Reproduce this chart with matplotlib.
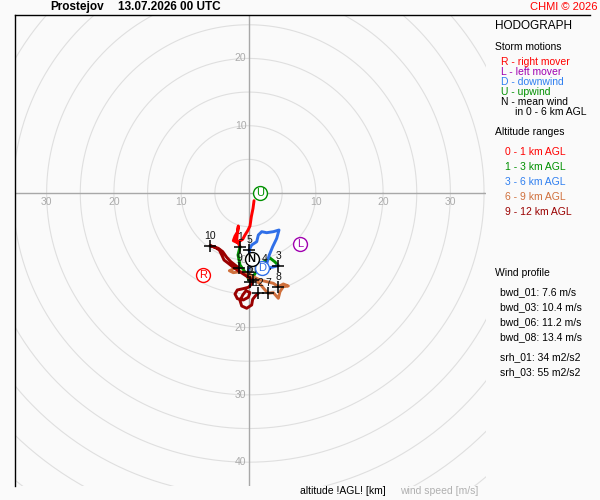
import matplotlib
matplotlib.use("Agg")
import matplotlib.pyplot as plt
import numpy as np
from matplotlib.lines import Line2D

plt.rcParams['font.family'] = ['Liberation Sans', 'DejaVu Sans']

# ---------------- data (m/s, u east, v north) ----------------
red_u = [0.82, 0.67, 0.42, 0.22, -0.12, -0.52, -0.86, -1.66, -2.26, -2.00, -1.61, -1.51, -1.66, -1.75, -1.26]
red_v = [-1.14, -2.28, -3.52, -4.90, -5.60, -6.24, -6.88, -7.38, -7.09, -6.39, -5.75, -4.90, -5.99, -6.98, -7.98]

green_u = [-1.26, -1.56, -1.26, -0.52, 0.22, 1.11, 2.01, 3.19, 3.94, 4.43]
green_v = [-7.98, -9.21, -10.70, -11.74, -13.18, -11.74, -10.40, -9.66, -10.25, -10.80]

blue_u = [4.43, 3.45, 2.45, 2.79, 3.09, 3.59, 4.19, 4.53, 3.69, 2.70, 1.96, 1.46, 1.22, 0.47, 0.07, 0.33, 0.33, -0.07]
blue_v = [-10.80, -11.04, -11.34, -10.20, -9.21, -7.98, -6.74, -5.50, -5.75, -5.90, -5.75, -6.24, -7.24, -7.73, -8.47, -9.46, -10.45, -11.69]

orange_u = [-0.07, 0.71, 1.71, 2.45, 2.94, 3.69, 4.43, 4.68, 5.17, 5.91, 5.17, 4.43, 3.69, 2.70, 1.71, 0.71, -0.27, -1.26, -2.26, -2.85, -2.01, -1.37]
orange_v = [-11.69, -12.68, -13.52, -14.41, -14.90, -14.81, -15.65, -14.66, -13.92, -13.82, -13.52, -13.92, -13.42, -13.18, -12.93, -12.44, -11.93, -11.69, -11.84, -11.55, -11.19, -11.19]

dred_u = [-1.37, -2.01, -2.64, -3.24, -3.83, -4.49, -5.23, -5.72, -4.98, -4.34, -3.98, -3.64, -3.00, -2.26, -1.52, -0.77, -0.03, 0.67,
          0.47, -0.03, -0.77, -1.66, -2.01, -1.66, -0.77, -0.03, 0.22, -0.37, -0.86, -1.26, -1.01, -0.27, 0.47, 0.62, 1.01, 1.46]
dred_v = [-11.19, -10.70, -10.20, -9.56, -8.72, -8.22, -7.98, -7.83, -8.07, -8.47, -9.21, -9.96, -10.45, -11.04, -11.55, -12.04, -12.53, -12.93,
          -13.52, -14.02, -14.21, -14.41, -15.01, -15.70, -15.90, -15.50, -14.81, -14.51, -15.16, -16.00, -16.79, -17.13, -16.64, -15.80, -15.30, -14.90]

km_labels = ['1', '2', '3', '4', '5', '6', '7', '8', '9', '10', '11', '12']
km_u = [-1.26, 0.22, 4.43, 2.45, 0.07, -0.07, 2.94, 4.43, -1.37, -5.72, 0.67, 1.46]
km_v = [-7.98, -13.18, -10.80, -11.34, -8.47, -11.69, -14.90, -13.92, -11.19, -7.83, -12.93, -14.90]

storm_labels = ['U', 'R', 'L', 'D', 'N']
storm_u = [1.71, -6.80, 7.65, 1.96, 0.47]
storm_v = [-0.05, -12.18, -7.58, -11.19, -9.86]
storm_colors = ['#009000', '#ff0000', '#a000b0', '#2f6fe8', '#000000']

ring_radii = [5, 10, 15, 20, 25, 30, 35, 40, 45, 50, 55, 60]
x_ticks = [-30, -20, -10, 10, 20, 30]
y_ticks = [20, 10, -10, -20, -30, -40]

layer_colors = ['#ff0000', '#009000', '#2f6fe8', '#d0703c', '#9a0000']

storm_text = [('R - right mover', '#ff0000'), ('L - left mover', '#a000b0'),
              ('D - downwind', '#2f7ff0'), ('U - upwind', '#009000'),
              ('N - mean wind', '#000000')]
alt_text = [('0 - 1 km AGL', '#ff0000'), ('1 - 3 km AGL', '#009000'),
            ('3 - 6 km AGL', '#2f7ff0'), ('6 - 9 km AGL', '#d0703c'),
            ('9 - 12 km AGL', '#9a0000')]
profile_text = ['bwd_01: 7.6 m/s', 'bwd_03: 10.4 m/s', 'bwd_06: 11.2 m/s', 'bwd_08: 13.4 m/s']
srh_text = ['srh_01: 34 m2/s2', 'srh_03: 55 m2/s2']

# ---------------- figure ----------------
W, H = 600, 500
fig = plt.figure(figsize=(6, 5), dpi=100, facecolor='#fafafa')

def fx(x):
    return x / W

def fy(y):
    return 1 - y / H

ax = fig.add_axes([fx(15), fy(486), (486 - 15) / W, (486 - 15) / H])
ax.set_facecolor('#fafafa')
ax.set_xlim(-34.70, 35.29)
ax.set_ylim(-43.54, 26.45)
for s in ax.spines.values():
    s.set_visible(False)
ax.set_xticks([])
ax.set_yticks([])

th = np.linspace(0, 2 * np.pi, 400)
for r in ring_radii:
    ax.plot(r * np.cos(th), r * np.sin(th), color='#dfdfdf', lw=0.8, zorder=1)
ax.axhline(0, color='#a8a8a8', lw=1.0, zorder=2)
ax.axvline(0, color='#a8a8a8', lw=1.0, zorder=2)

for t in x_ticks:
    ax.annotate(str(abs(t)), (t, 0), xytext=(0, -9), textcoords='offset pixels',
                ha='center', va='center', color='#ababab', fontsize=7.5, zorder=2)
for t in y_ticks:
    ax.annotate(str(abs(t)), (0, t), xytext=(-2, 0), textcoords='offset pixels',
                ha='right', va='center', color='#ababab', fontsize=7.5, zorder=2)

layers = [(red_u, red_v), (green_u, green_v), (blue_u, blue_v), (orange_u, orange_v), (dred_u, dred_v)]
for (u, v), c in zip(layers, layer_colors):
    ax.plot(u, v, color=c, lw=2.1, solid_joinstyle='round', solid_capstyle='round', zorder=4)

ax.plot(km_u, km_v, ls='none', marker='+', ms=9, mew=1.1, color='black', zorder=6)
for lab, u, v in zip(km_labels, km_u, km_v):
    ax.annotate(lab, (u, v), xytext=(0, 10), textcoords='offset pixels',
                ha='center', va='center', fontsize=7.5, color='#111111', zorder=6)

for lab, u, v, c in zip(storm_labels, storm_u, storm_v, storm_colors):
    ax.plot(u, v, marker='o', ms=10, mfc='white', mec=c, mew=1.0, zorder=7)
    ax.text(u, v, lab, ha='center', va='center', color=c, fontsize=8,
            fontweight='bold' if lab == 'N' else 'normal', zorder=8)

# frame lines
fig.add_artist(Line2D([fx(15), fx(590)], [fy(15), fy(15)], color='black', lw=1.0))
fig.add_artist(Line2D([fx(15), fx(15)], [fy(15), fy(486)], color='black', lw=1.0))

# header
fig.text(fx(50), fy(7), 'Prostejov', fontsize=8.5, fontweight='bold', va='center', ha='left')
fig.text(fx(118), fy(7), '13.07.2026 00 UTC', fontsize=8.5, fontweight='bold', va='center', ha='left')
fig.text(fx(597), fy(7), 'CHMI \u00a9 2026', fontsize=8, color='#ff0000', va='center', ha='right')

# right panel
fig.text(fx(495), fy(26), 'HODOGRAPH', fontsize=8.5, va='center', ha='left')
fig.text(fx(495), fy(47), 'Storm motions', fontsize=7.5, va='center', ha='left')
for i, (t, c) in enumerate(storm_text):
    fig.text(fx(501), fy(62 + 10 * i), t, fontsize=7.5, color=c, va='center', ha='left')
fig.text(fx(515), fy(112), 'in 0 - 6 km AGL', fontsize=7.5, va='center', ha='left')
fig.text(fx(495), fy(132), 'Altitude ranges', fontsize=7.5, va='center', ha='left')
for i, (t, c) in enumerate(alt_text):
    fig.text(fx(505), fy(152 + 15 * i), t, fontsize=7.5, color=c, va='center', ha='left')

fig.text(fx(495), fy(273), 'Wind profile', fontsize=7.5, va='center', ha='left')
for i, t in enumerate(profile_text):
    fig.text(fx(500), fy(292 + 15 * i), t, fontsize=7.5, va='center', ha='left')
for i, t in enumerate(srh_text):
    fig.text(fx(500), fy(357 + 15 * i), t, fontsize=7.5, va='center', ha='left')

fig.text(fx(300), fy(491), 'altitude !AGL! [km]', fontsize=7.5, va='center', ha='left')
fig.text(fx(400), fy(491), 'wind speed [m/s]', fontsize=7.5, color='#b0b0b0', va='center', ha='left')

fig.savefig('out.png', dpi=100, facecolor=fig.get_facecolor())
